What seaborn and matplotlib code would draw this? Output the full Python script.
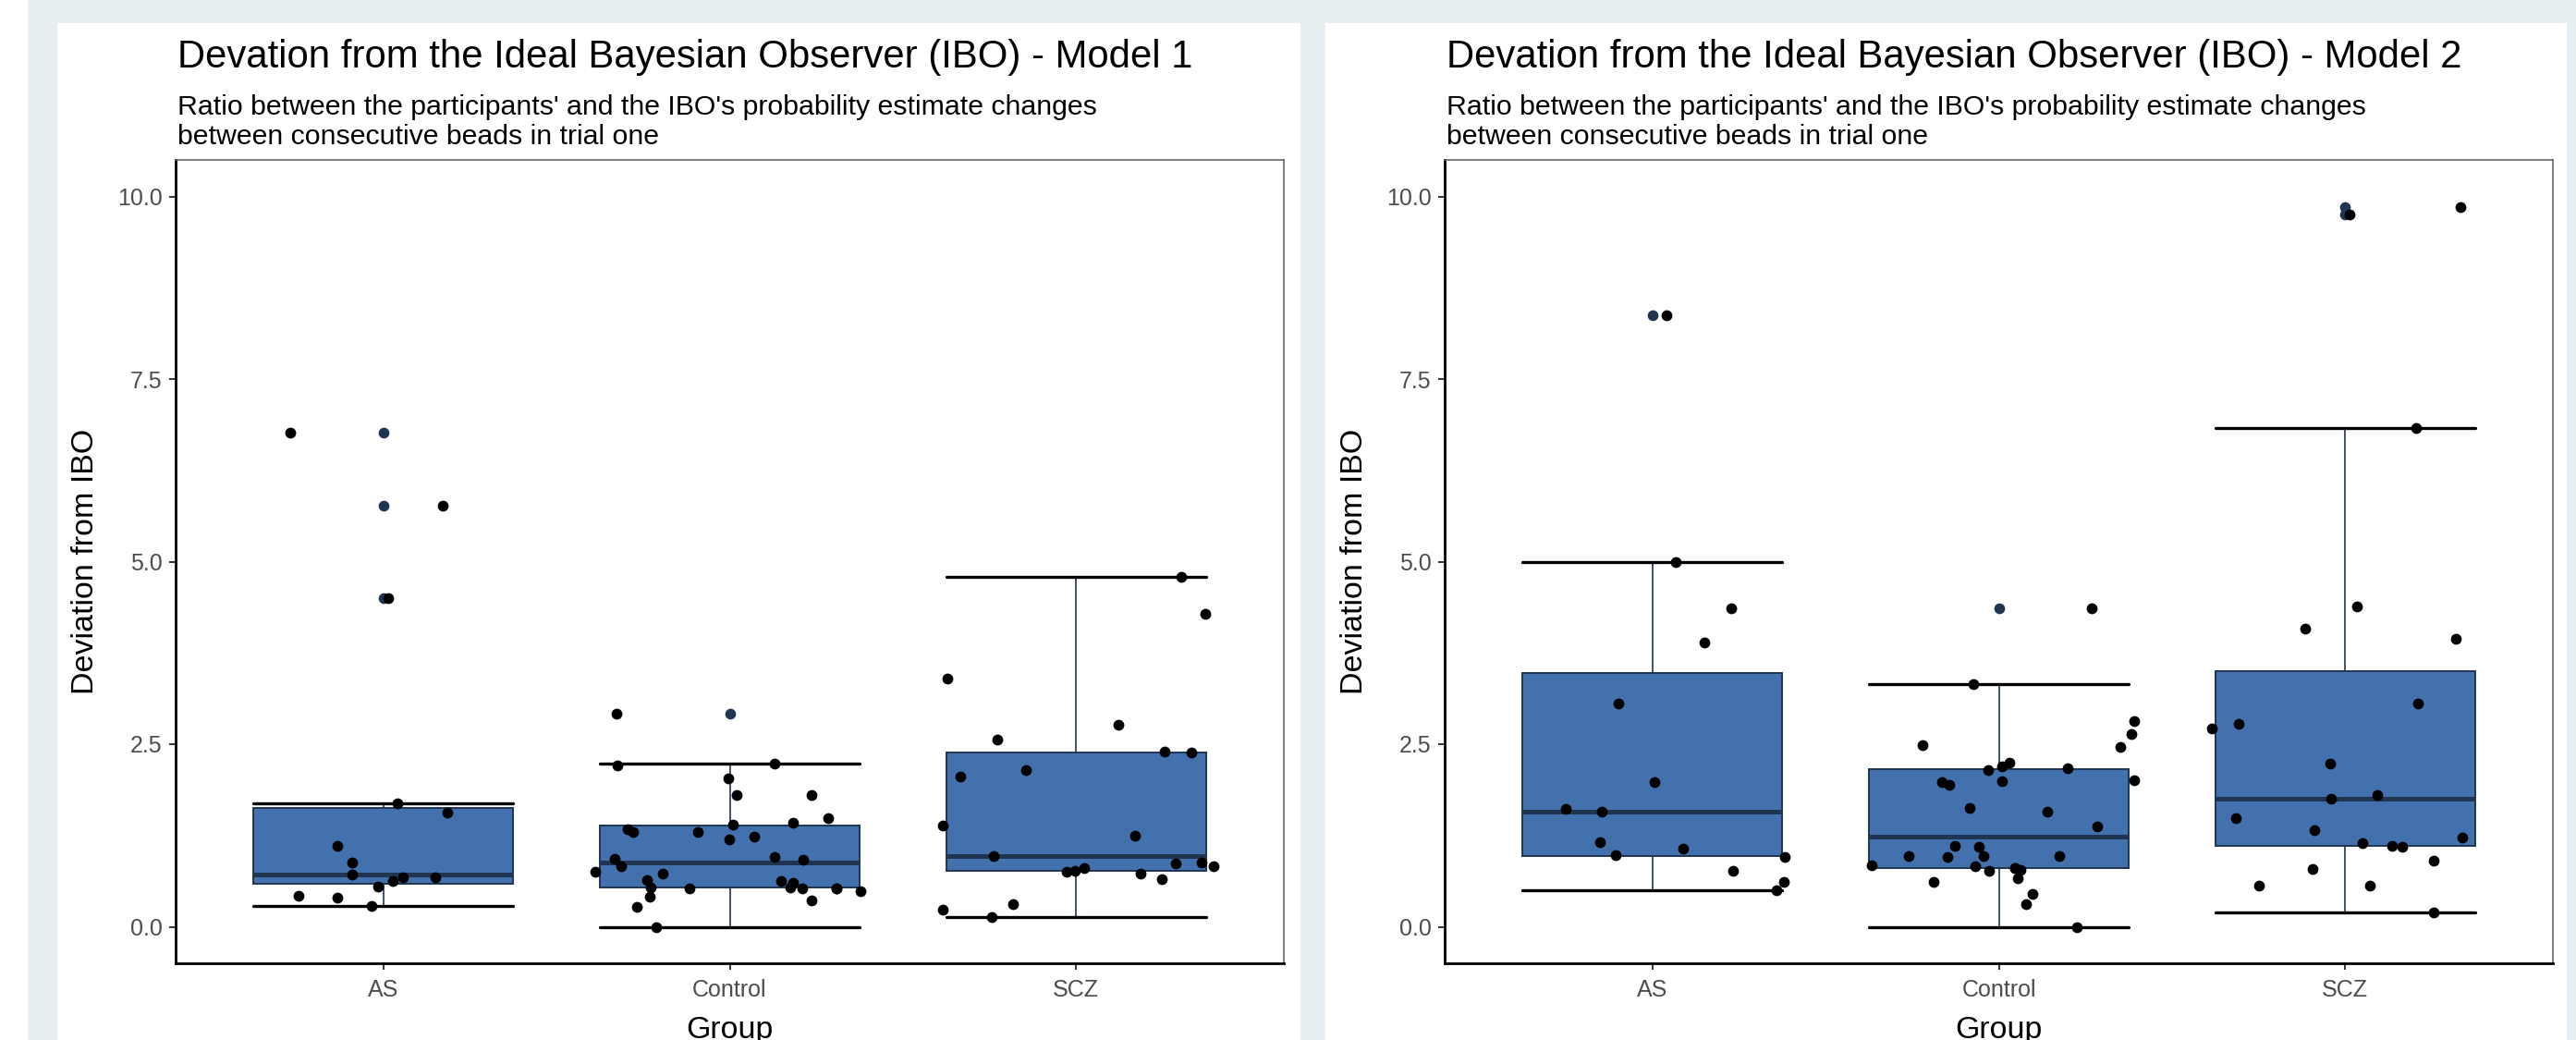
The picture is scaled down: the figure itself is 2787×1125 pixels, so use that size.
import numpy as np
import pandas as pd
import matplotlib
matplotlib.use("Agg")
import matplotlib.pyplot as plt
from matplotlib.patches import Rectangle
import seaborn as sns

# ===== data =====
groups = ["AS", "Control", "SCZ"]

# Model 1: deviation values per group + horizontal jitter (category units)
m1_as = [6.77, 5.77, 4.50, 1.69, 1.56, 1.11, 0.88, 0.71, 0.68, 0.68, 0.63, 0.55, 0.42, 0.40, 0.28]
m1_as_jit = [-0.27, 0.17, 0.015, 0.04, 0.185, -0.134, -0.091, -0.091, 0.057, 0.149, 0.026, -0.015, -0.245, -0.134, -0.034]

m1_ctrl = [2.92, 2.24, 2.21, 2.03, 1.81, 1.81, 1.49, 1.43, 1.40, 1.34, 1.30, 1.30, 1.24, 1.19, 0.96, 0.93, 0.92,
           0.83, 0.75, 0.73, 0.64, 0.63, 0.60, 0.54, 0.54, 0.53, 0.53, 0.52, 0.52, 0.49, 0.41, 0.36, 0.27, 0.00]
m1_ctrl_jit = [-0.328, 0.13, -0.325, -0.003, 0.021, 0.237, 0.285, 0.183, 0.01, -0.294, -0.279, -0.093, 0.072, -0.002,
               0.129, -0.331, 0.211, -0.314, -0.387, -0.193, -0.24, 0.149, 0.183, -0.228, 0.176, 0.309, 0.309,
               -0.115, 0.209, 0.378, -0.232, 0.235, -0.268, -0.212]

m1_scz = [4.79, 4.28, 3.40, 2.76, 2.56, 2.40, 2.38, 2.06, 2.14, 1.38, 1.25, 0.97, 0.87, 0.88, 0.83, 0.75, 0.77,
          0.81, 0.73, 0.65, 0.23, 0.31, 0.13]
m1_scz_jit = [0.304, 0.372, -0.372, 0.121, -0.228, 0.257, 0.332, -0.334, -0.145, -0.385, 0.17, -0.238, 0.287,
              0.362, 0.396, -0.026, -0.004, 0.023, 0.187, 0.247, -0.385, -0.181, -0.243]

# Model 2
m2_as = [8.37, 4.99, 4.36, 3.89, 3.06, 1.98, 1.61, 1.57, 1.16, 1.07, 0.98, 0.95, 0.76, 0.61, 0.50]
m2_as_jit = [0.04, 0.067, 0.227, 0.149, -0.099, 0.006, -0.251, -0.145, -0.152, 0.088, -0.107, 0.383, 0.232, 0.379, 0.358]

m2_ctrl = [4.36, 3.32, 2.82, 2.64, 2.49, 2.46, 2.25, 2.20, 2.17, 2.14, 2.01, 1.99, 1.98, 1.94, 1.63, 1.58, 1.37,
           1.11, 1.10, 0.97, 0.97, 0.97, 0.95, 0.84, 0.83, 0.80, 0.80, 0.78, 0.76, 0.66, 0.62, 0.45, 0.31, 0.00]
m2_ctrl_jit = [0.269, -0.074, 0.39, 0.383, -0.22, 0.352, 0.03, 0.009, 0.2, -0.031, 0.39, 0.009, -0.164, -0.144,
               -0.084, 0.141, 0.284, -0.126, -0.058, -0.045, -0.259, 0.176, -0.149, -0.367, -0.067, 0.046, 0.046,
               0.064, -0.029, 0.055, -0.187, 0.098, 0.08, 0.226]

m2_scz = [9.86, 9.75, 6.83, 4.39, 4.08, 3.94, 3.06, 2.78, 2.72, 2.23, 1.80, 1.75, 1.49, 1.32, 1.22, 1.14, 1.11,
          1.10, 0.91, 0.79, 0.56, 0.56, 0.19]
m2_scz_jit = [0.334, 0.013, 0.206, 0.034, -0.114, 0.32, 0.211, -0.307, -0.385, -0.042, 0.093, -0.04, -0.316,
              -0.088, 0.339, 0.051, 0.135, 0.166, 0.257, -0.095, -0.248, 0.072, 0.255]

title_1 = "Devation from the Ideal Bayesian Observer (IBO) - Model 1"
title_2 = "Devation from the Ideal Bayesian Observer (IBO) - Model 2"
subtitle_1 = "Ratio between the participants' and the IBO's probability estimate changes"
subtitle_2 = "between consecutive beads in trial one"
y_ticks = [0, 2.5, 5, 7.5, 10]
y_ticklabels = ["0.0", "2.5", "5.0", "7.5", "10.0"]


def make_df(vals, jits):
    rows = []
    for i, g in enumerate(groups):
        for v, j in zip(vals[i], jits[i]):
            rows.append({"Group": g, "Deviation": v, "xj": i + j})
    return pd.DataFrame(rows)


df1 = make_df([m1_as, m1_ctrl, m1_scz], [m1_as_jit, m1_ctrl_jit, m1_scz_jit])
df2 = make_df([m2_as, m2_ctrl, m2_scz], [m2_as_jit, m2_ctrl_jit, m2_scz_jit])

# ===== style =====
sns.set_theme(style="white")
plt.rcParams['font.family'] = ['Liberation Sans', 'DejaVu Sans']

W, H = 2787, 1125
fig = plt.figure(figsize=(W / 100, H / 100), dpi=100, facecolor="#E8EFF2")


def fx(px):
    return px / W


def fy(py):
    return 1 - py / H


# white cards behind the two plots
for x0, x1 in [(0, 30), (62, 1407), (1434, 2777)]:
    top = 0 if x0 == 0 else 25
    fig.patches.append(Rectangle((fx(x0), 0), fx(x1 - x0), fy(top), transform=fig.transFigure,
                                 facecolor="white", edgecolor="none", zorder=-5))

box_fill = "#4271AE"
box_line = "#1F3552"


def draw_panel(df, left, title):
    right = left + 1199
    ax = fig.add_axes([fx(left), fy(1042), fx(right - left), (1042 - 173) / H])
    ax.set_zorder(2)
    sns.boxplot(data=df, x="Group", y="Deviation", order=groups, width=0.75, color=box_fill,
                saturation=1, linecolor=box_line, linewidth=1.4, whis=1.5, ax=ax,
                capwidths=0.75,
                capprops=dict(color="black", linewidth=2.4),
                whiskerprops=dict(color=box_line, linewidth=1.2),
                medianprops=dict(color=box_line, linewidth=3.6),
                flierprops=dict(marker="o", markerfacecolor=box_line, markeredgecolor=box_line,
                                markersize=8.4, markeredgewidth=0))
    sns.scatterplot(data=df, x="xj", y="Deviation", color="black", s=72, linewidth=0,
                    ax=ax, legend=False, zorder=5)

    ax.set_xlim(-0.6, 2.6)
    ax.set_ylim(-0.5, 10.5)
    ax.set_yticks(y_ticks)
    ax.set_yticklabels(y_ticklabels)
    ax.set_xticks(range(len(groups)))
    ax.set_xticklabels(groups)
    ax.set_xlabel("")
    ax.set_ylabel("")
    ax.tick_params(axis="both", length=5, width=1.4, color="#333333", labelsize=18,
                   labelcolor="#4D4D4D", left=True, bottom=True)
    ax.tick_params(axis="y", pad=5.5)
    ax.tick_params(axis="x", pad=7)
    for s in ["left", "bottom"]:
        ax.spines[s].set_color("black")
        ax.spines[s].set_linewidth(2.0)
    for s in ["top", "right"]:
        ax.spines[s].set_color("#5A5A5A")
        ax.spines[s].set_linewidth(1.1)
    ax.set_facecolor("white")

    fig.text(fx(left + 2), fy(73), title, fontsize=30.2, color="black", va="baseline", ha="left")
    fig.text(fx(left + 2), fy(124), subtitle_1, fontsize=21.8, color="black", va="baseline", ha="left")
    fig.text(fx(left + 2), fy(156), subtitle_2, fontsize=21.8, color="black", va="baseline", ha="left")
    fig.text(fx(left - 97), fy(607), "Deviation from IBO", fontsize=24.5, rotation=90,
             ha="center", va="center", color="black")
    fig.text(fx((left + right) / 2), fy(1123), "Group", fontsize=24.5, ha="center",
             va="baseline", color="black")
    return ax


draw_panel(df1, 190, title_1)
draw_panel(df2, 1563, title_2)

plt.savefig("out.png", dpi=100, facecolor=fig.get_facecolor())
